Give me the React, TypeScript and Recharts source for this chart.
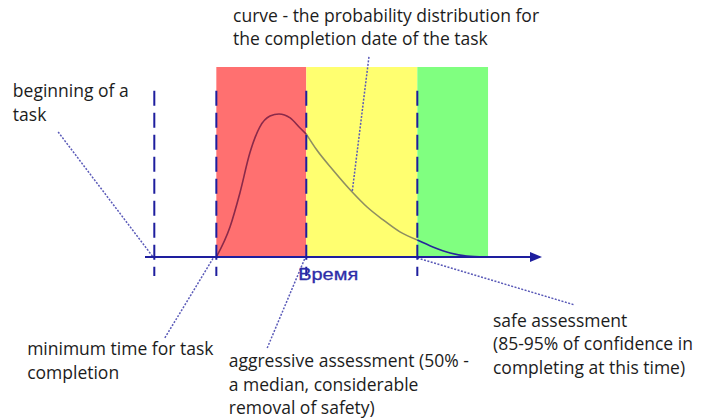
import React from 'react';
import {
  ComposedChart,
  Line,
  XAxis,
  YAxis,
  ReferenceArea,
  ReferenceLine,
  ReferenceDot,
} from 'recharts';

// time axis (arbitrary units) and probability density (relative)
const curveTime = [10, 12.2, 13.8, 15.4, 17.0, 18.65, 20.1, 21.9, 23.5, 24.5, 26.2, 28.8, 31.9, 34.3, 36.9, 39.6, 42.4, 44.9, 47.7, 50.4, 53.3];
const curveDensity = [0, 0.158, 0.337, 0.547, 0.684, 0.742, 0.753, 0.732, 0.679, 0.647, 0.563, 0.458, 0.342, 0.263, 0.195, 0.132, 0.089, 0.053, 0.021, 0.005, 0];

// key moments on the time axis
const taskStart = 0;
const minimumTime = 10;
const medianTime = 24.5;
const safeTime = 42.4;
const zoneEnd = 53.8;
const markerTimes = [taskStart, minimumTime, medianTime, safeTime];

const zoneStarts = [minimumTime, medianTime, safeTime];
const zoneEnds = [medianTime, safeTime, zoneEnd];
const zoneColors = ['#ff7070', '#ffff70', '#80ff80'];
const curveColors = ['#8a2a4a', '#8e8e62', '#26269a'];

const axisLabel = 'Время';

const annotationTexts = [
  ['curve - the probability distribution for', 'the completion date of the task'],
  ['beginning of a', 'task'],
  ['minimum time for task', 'completion'],
  ['aggressive assessment (50% -', 'a median, considerable', 'removal of safety)'],
  ['safe assessment', '(85-95% of confidence in', 'completing at this time)'],
];
const annotationAnchorX = [12.7, -22.8, -20.5, 12.0, 54.6];
const annotationAnchorY = [1.237, 0.842, -0.516, -0.579, -0.368];
const leaderFromX = [34.6, -15.5, 1.7, 18.2, 42.4];
const leaderFromY = [1.053, 0.658, -0.426, -0.479, -0.005];
const leaderToX = [31.9, -0.2, 9.6, 24.3, 67.8];
const leaderToY = [0.342, 0, 0, -0.005, -0.253];

const xDomain = [-1.5, 62.5];
const yDomain = [0, 1];

const points = curveTime.map((t, i) => ({ t, d: curveDensity[i] }));
const segments = zoneStarts.map((s, i) =>
  points.filter((p) => p.t >= s - 1e-9 && (i === 2 || p.t <= zoneEnds[i] + 1e-9))
);

const NAVY = '#1e1e9e';

const TextBlock = (props: any) => {
  const { cx, cy, lines } = props;
  if (cx == null || cy == null) return null;
  return (
    <text x={cx} y={cy} fontFamily="'Open Sans', sans-serif" fontSize={17.5} fill="#1c1c1c">
      {lines.map((l: string, i: number) => (
        <tspan key={i} x={cx} dy={i === 0 ? 0 : 23.5}>
          {l}
        </tspan>
      ))}
    </text>
  );
};

const AxisLabel = (props: any) => {
  const { cx, cy } = props;
  if (cx == null || cy == null) return null;
  return (
    <text
      x={cx}
      y={cy}
      fontFamily="'Liberation Sans', Arial, sans-serif"
      fontSize={17}
      fill="#2d2da8"
      stroke="#2d2da8"
      strokeWidth={0.3}
      textLength={60}
      lengthAdjust="spacingAndGlyphs"
    >
      {axisLabel}
    </text>
  );
};

const AxisArrow = (props: any) => {
  const { x1, y1, x2, y2 } = props;
  if (x1 == null) return null;
  return (
    <g>
      <line x1={x1} y1={y1} x2={x2 - 8} y2={y2} stroke={NAVY} strokeWidth={2} />
      <polygon points={`${x2},${y2} ${x2 - 12},${y2 - 5} ${x2 - 12},${y2 + 5}`} fill={NAVY} />
    </g>
  );
};

export default function App() {
  return (
    <div style={{ position: 'absolute', left: 0, top: 0, width: 701, height: 420, background: '#fff' }}>
      <ComposedChart
        width={701}
        height={420}
        margin={{ top: 67, right: 159, bottom: 163, left: 145 }}
      >
        <XAxis type="number" dataKey="t" domain={xDomain} hide allowDataOverflow />
        <YAxis type="number" domain={yDomain} hide allowDataOverflow />
        {zoneStarts.map((s, i) => (
          <ReferenceArea
            key={'z' + i}
            x1={s}
            x2={zoneEnds[i]}
            y1={yDomain[0]}
            y2={yDomain[1]}
            fill={zoneColors[i]}
            fillOpacity={1}
            stroke="none"
            ifOverflow="visible"
          />
        ))}
        {segments.map((seg, i) => (
          <Line
            key={'c' + i}
            data={seg}
            dataKey="d"
            type="monotone"
            stroke={curveColors[i]}
            strokeWidth={1.6}
            dot={false}
            activeDot={false}
            isAnimationActive={false}
          />
        ))}
        {annotationTexts.map((_, i) => (
          <ReferenceLine
            key={'l' + i}
            segment={[
              { x: leaderFromX[i], y: leaderFromY[i] },
              { x: leaderToX[i], y: leaderToY[i] },
            ]}
            stroke="#5a5ab8"
            strokeWidth={1.5}
            strokeDasharray="2 1.5"
            ifOverflow="visible"
          />
        ))}
        {markerTimes.map((t, i) => (
          <ReferenceLine
            key={'m' + i}
            segment={[
              { x: t, y: 0.875 },
              { x: t, y: -0.1 },
            ]}
            stroke={NAVY}
            strokeWidth={2}
            strokeDasharray="15 7"
            ifOverflow="visible"
          />
        ))}
        <ReferenceLine
          segment={[
            { x: xDomain[0], y: 0 },
            { x: xDomain[1], y: 0 },
          ]}
          ifOverflow="visible"
          shape={AxisArrow}
        />
        {annotationTexts.map((lines, i) => (
          <ReferenceDot
            key={'t' + i}
            x={annotationAnchorX[i]}
            y={annotationAnchorY[i]}
            r={0}
            ifOverflow="visible"
            shape={(p: any) => <TextBlock {...p} lines={lines} />}
          />
        ))}
        <ReferenceDot
          x={23.2}
          y={-0.121}
          r={0}
          ifOverflow="visible"
          shape={(p: any) => <AxisLabel {...p} />}
        />
      </ComposedChart>
    </div>
  );
}
